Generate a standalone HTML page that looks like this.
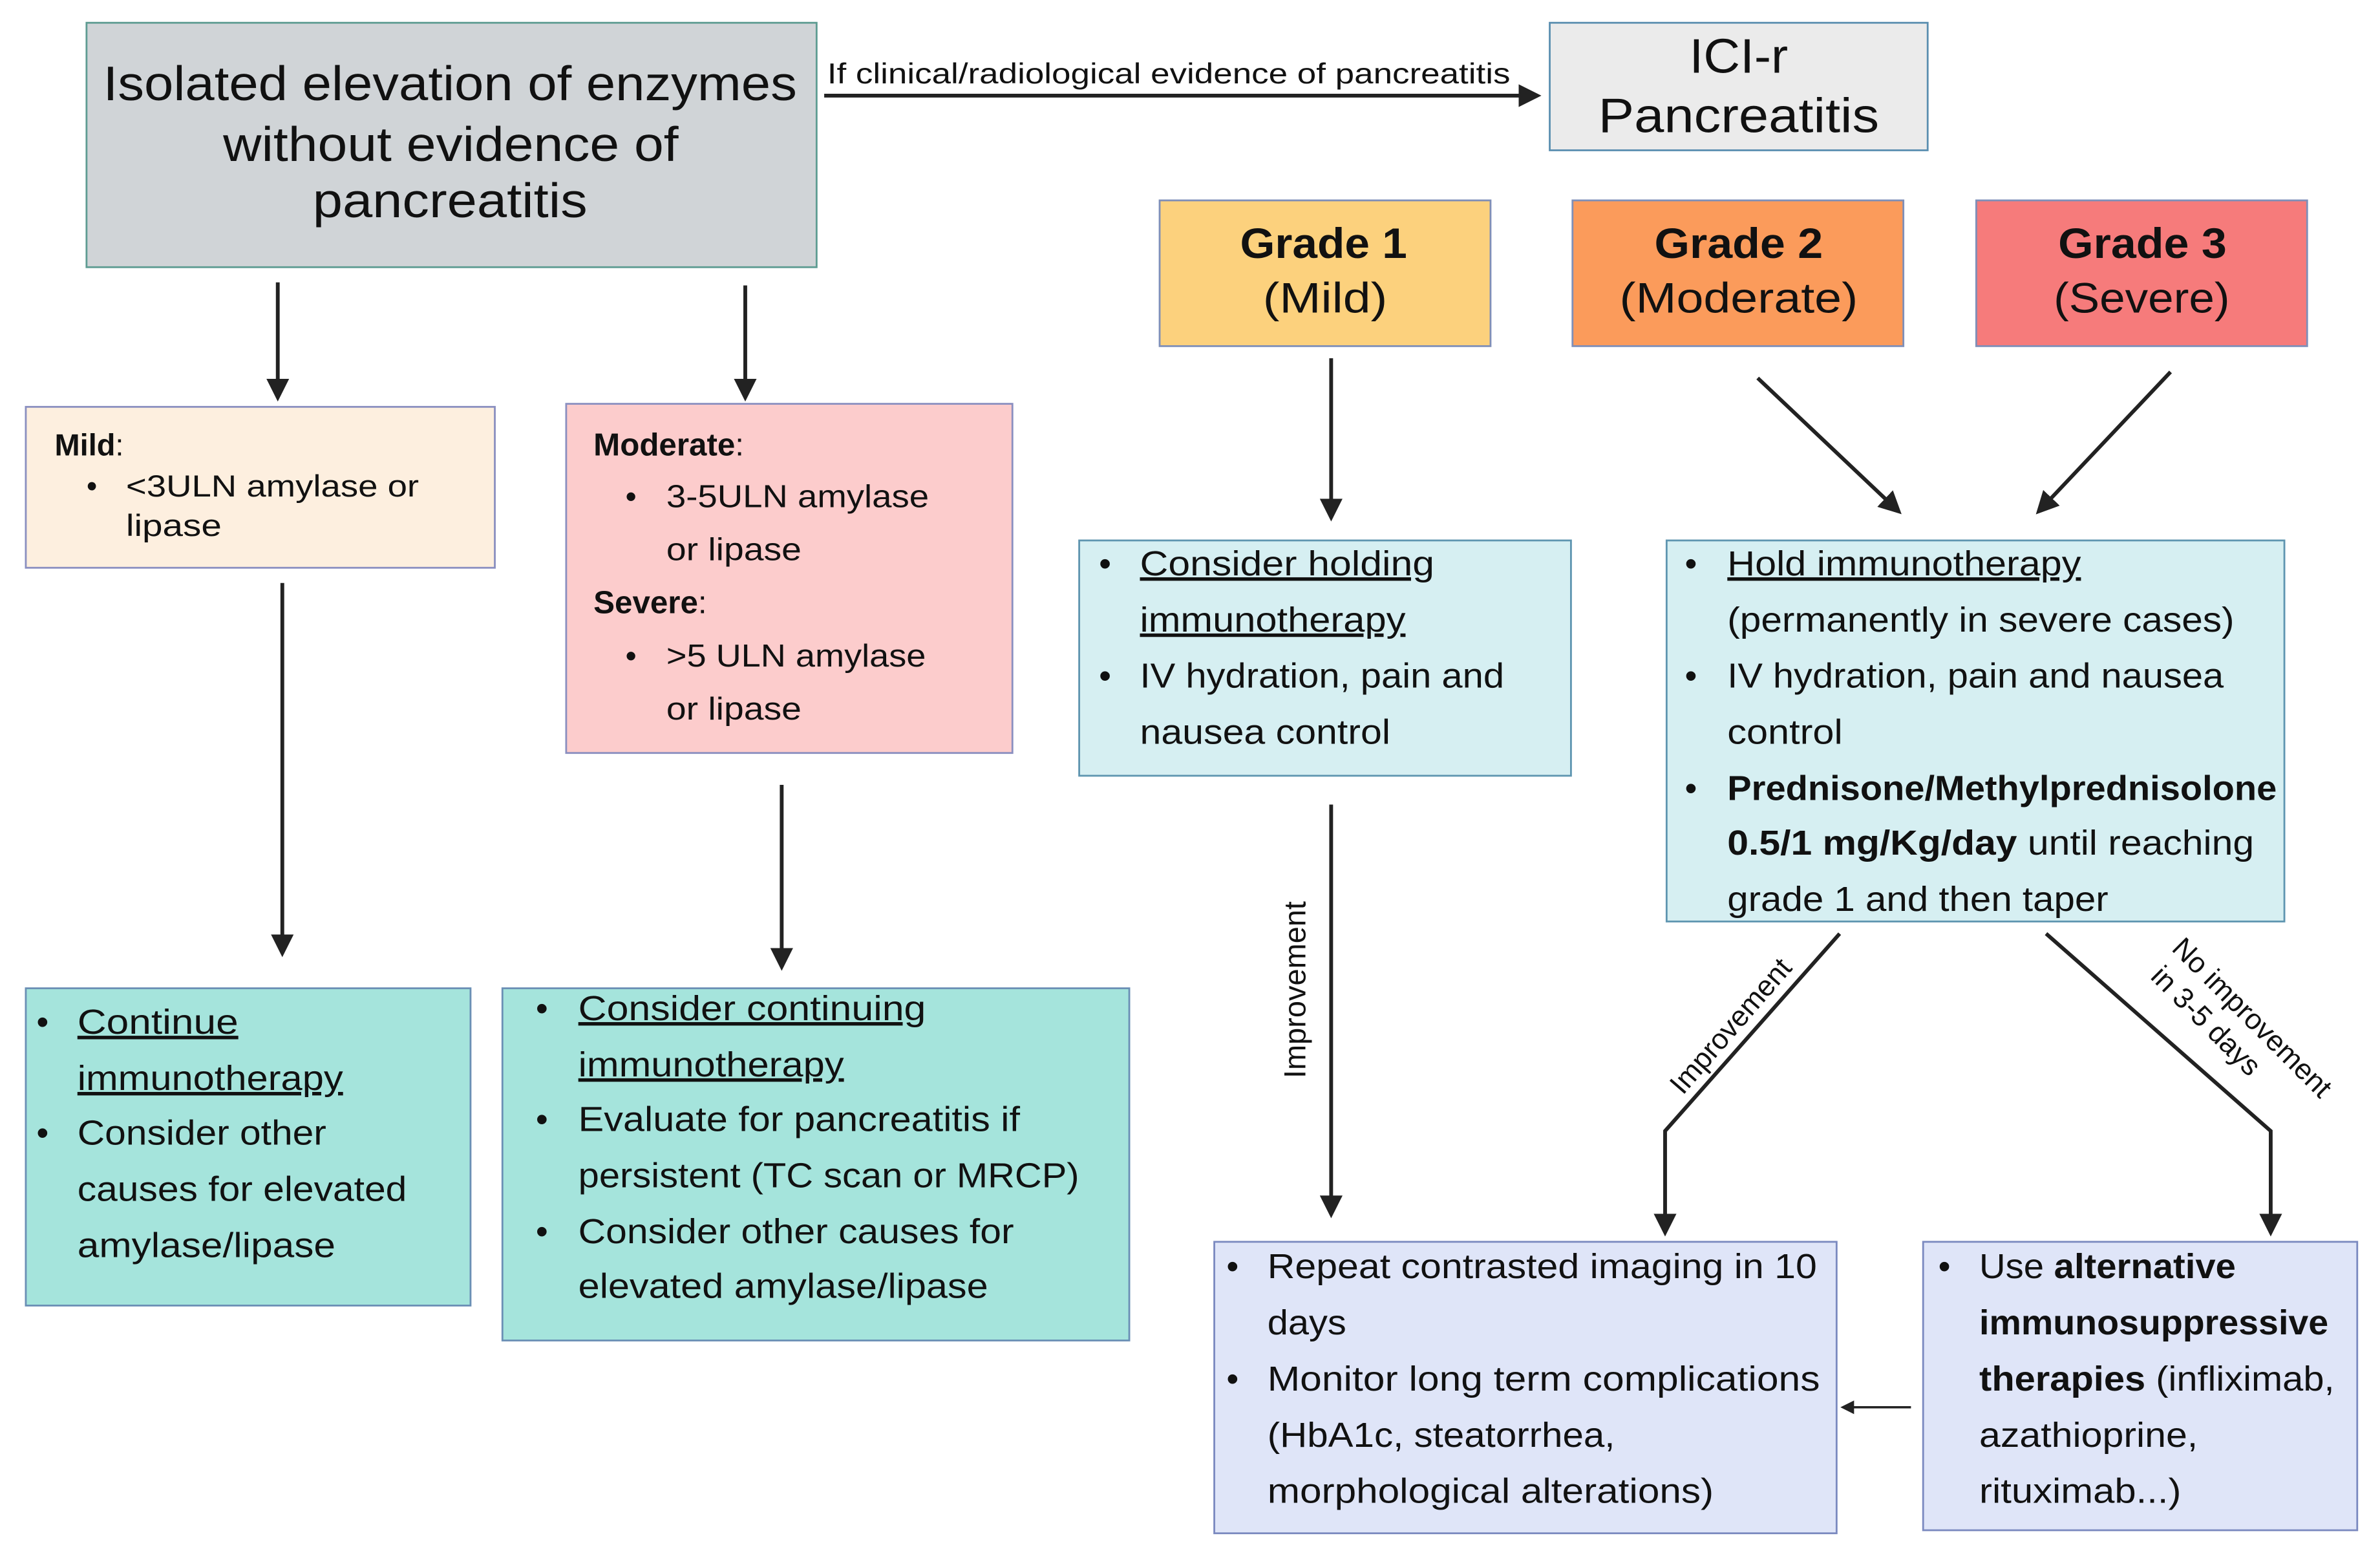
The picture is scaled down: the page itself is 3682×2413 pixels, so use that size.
<!DOCTYPE html>
<html><head><meta charset="utf-8"><style>
html,body{margin:0;padding:0;background:#fff;}
svg{display:block;}
text{font-family:"Liberation Sans",sans-serif;fill:#111;}
.u{text-decoration:underline;}
</style></head><body>
<svg width="3682" height="2413" viewBox="0 0 1568 1027.6" preserveAspectRatio="none" xmlns="http://www.w3.org/2000/svg">
<defs>
<marker id="a" markerWidth="6" markerHeight="6" refX="5" refY="3" orient="auto" markerUnits="strokeWidth"><path d="M0,0 L6,3 L0,6 z" fill="#222"/></marker>
</defs>
<rect width="1568" height="1028" fill="#fff"/>
<!-- top box -->
<rect x="57" y="15" width="481" height="161" fill="#d0d4d7" stroke="#5e9c92" stroke-width="1.2"/>
<g font-size="32" text-anchor="start">
<text x="68" y="66" textLength="457" lengthAdjust="spacingAndGlyphs">Isolated elevation of enzymes</text>
<text x="147" y="106" textLength="300" lengthAdjust="spacingAndGlyphs">without evidence of</text>
<text x="206" y="143" textLength="181" lengthAdjust="spacingAndGlyphs">pancreatitis</text>
</g>
<line x1="543" y1="63" x2="1013" y2="63" stroke="#222" stroke-width="2.5" marker-end="url(#a)"/>
<text x="545" y="55" font-size="19" textLength="450" lengthAdjust="spacingAndGlyphs">If clinical/radiological evidence of pancreatitis</text>
<rect x="1021" y="15" width="249" height="84" fill="#ebebeb" stroke="#5b8fb0" stroke-width="1.2"/>
<text x="1113" y="48" font-size="32" textLength="65" lengthAdjust="spacingAndGlyphs">ICI-r</text>
<text x="1053" y="87" font-size="32" textLength="185" lengthAdjust="spacingAndGlyphs">Pancreatitis</text>
<!-- grades -->
<rect x="764" y="132" width="218" height="96" fill="#fcd17d" stroke="#7f8fb8" stroke-width="1.2"/>
<rect x="1036" y="132" width="218" height="96" fill="#fb9b5b" stroke="#7f8fb8" stroke-width="1.2"/>
<rect x="1302" y="132" width="218" height="96" fill="#f67b7b" stroke="#7f8fb8" stroke-width="1.2"/>
<g font-size="28">
<text x="817" y="170" font-weight="bold" textLength="110" lengthAdjust="spacingAndGlyphs">Grade 1</text>
<text x="832" y="206" textLength="82" lengthAdjust="spacingAndGlyphs">(Mild)</text>
<text x="1090" y="170" font-weight="bold" textLength="111" lengthAdjust="spacingAndGlyphs">Grade 2</text>
<text x="1067" y="206" textLength="157" lengthAdjust="spacingAndGlyphs">(Moderate)</text>
<text x="1356" y="170" font-weight="bold" textLength="111" lengthAdjust="spacingAndGlyphs">Grade 3</text>
<text x="1353" y="206" textLength="116" lengthAdjust="spacingAndGlyphs">(Severe)</text>
</g>
<!-- arrows -->
<g stroke="#222" stroke-width="2.5" fill="none" marker-end="url(#a)">
<line x1="183" y1="186" x2="183" y2="262"/>
<line x1="491" y1="188" x2="491" y2="262"/>
<line x1="186" y1="384" x2="186" y2="628"/>
<line x1="515" y1="517" x2="515" y2="637"/>
<line x1="877" y1="236" x2="877" y2="341"/>
<line x1="1158" y1="249" x2="1251" y2="337"/>
<line x1="1430" y1="245" x2="1343" y2="337"/>
<line x1="877" y1="530" x2="877" y2="800"/>
<polyline points="1212,615 1097,745 1097,812"/>
<polyline points="1348,615 1496,745 1496,812"/>
</g>
<line x1="1259" y1="927" x2="1214" y2="927" stroke="#222" stroke-width="1.5" marker-end="url(#a)"/>
<!-- Mild -->
<rect x="17" y="268" width="309" height="106" fill="#fdefdf" stroke="#8a8fc0" stroke-width="1.2"/>
<g font-size="20">
<text x="36" y="300"><tspan font-weight="bold">Mild</tspan>:</text>
<text x="57" y="327">•</text>
<text x="83" y="327" textLength="193" lengthAdjust="spacingAndGlyphs">&lt;3ULN amylase or</text>
<text x="83" y="353" textLength="63" lengthAdjust="spacingAndGlyphs">lipase</text>
</g>
<!-- Moderate -->
<rect x="373" y="266" width="294" height="230" fill="#fccccc" stroke="#8a8fc0" stroke-width="1.2"/>
<g font-size="21">
<text x="391" y="300"><tspan font-weight="bold">Moderate</tspan>:</text>
<text x="412" y="334">•</text>
<text x="439" y="334" textLength="173" lengthAdjust="spacingAndGlyphs">3-5ULN amylase</text>
<text x="439" y="369" textLength="89" lengthAdjust="spacingAndGlyphs">or lipase</text>
<text x="391" y="404"><tspan font-weight="bold">Severe</tspan>:</text>
<text x="412" y="439">•</text>
<text x="439" y="439" textLength="171" lengthAdjust="spacingAndGlyphs">&gt;5 ULN amylase</text>
<text x="439" y="474" textLength="89" lengthAdjust="spacingAndGlyphs">or lipase</text>
</g>
<!-- Continue -->
<rect x="17" y="651" width="293" height="209" fill="#a5e4dc" stroke="#6a8fb5" stroke-width="1.2"/>
<g font-size="23">
<text x="24" y="681">•</text>
<text x="51" y="681" class="u" textLength="106" lengthAdjust="spacingAndGlyphs">Continue </text>
<text x="51" y="718" class="u" textLength="175" lengthAdjust="spacingAndGlyphs">immunotherapy</text>
<text x="24" y="754">•</text>
<text x="51" y="754" textLength="164" lengthAdjust="spacingAndGlyphs">Consider other</text>
<text x="51" y="791" textLength="217" lengthAdjust="spacingAndGlyphs">causes for elevated</text>
<text x="51" y="828" textLength="170" lengthAdjust="spacingAndGlyphs">amylase/lipase</text>
</g>
<!-- Consider continuing -->
<rect x="331" y="651" width="413" height="232" fill="#a5e4dc" stroke="#6a8fb5" stroke-width="1.2"/>
<g font-size="23">
<text x="353" y="672">•</text>
<text x="381" y="672" class="u" textLength="229" lengthAdjust="spacingAndGlyphs">Consider continuing </text>
<text x="381" y="709" class="u" textLength="175" lengthAdjust="spacingAndGlyphs">immunotherapy</text>
<text x="353" y="745">•</text>
<text x="381" y="745" textLength="291" lengthAdjust="spacingAndGlyphs">Evaluate for pancreatitis if</text>
<text x="381" y="782" textLength="330" lengthAdjust="spacingAndGlyphs">persistent (TC scan or MRCP)</text>
<text x="353" y="819">•</text>
<text x="381" y="819" textLength="287" lengthAdjust="spacingAndGlyphs">Consider other causes for</text>
<text x="381" y="855" textLength="270" lengthAdjust="spacingAndGlyphs">elevated amylase/lipase</text>
</g>
<!-- holding -->
<rect x="711" y="356" width="324" height="155" fill="#d6eff2" stroke="#5e95b0" stroke-width="1.2"/>
<g font-size="23">
<text x="724" y="379">•</text>
<text x="751" y="379" class="u" textLength="194" lengthAdjust="spacingAndGlyphs">Consider holding </text>
<text x="751" y="416" class="u" textLength="175" lengthAdjust="spacingAndGlyphs">immunotherapy</text>
<text x="724" y="453">•</text>
<text x="751" y="453" textLength="240" lengthAdjust="spacingAndGlyphs">IV hydration, pain and</text>
<text x="751" y="490" textLength="165" lengthAdjust="spacingAndGlyphs">nausea control</text>
</g>
<!-- hold -->
<rect x="1098" y="356" width="407" height="251" fill="#d6eff2" stroke="#5e95b0" stroke-width="1.2"/>
<g font-size="23">
<text x="1110" y="379">•</text>
<text x="1138" y="379" class="u" textLength="233" lengthAdjust="spacingAndGlyphs">Hold immunotherapy</text>
<text x="1138" y="416" textLength="334" lengthAdjust="spacingAndGlyphs">(permanently in severe cases)</text>
<text x="1110" y="453">•</text>
<text x="1138" y="453" textLength="327" lengthAdjust="spacingAndGlyphs">IV hydration, pain and nausea</text>
<text x="1138" y="490" textLength="76" lengthAdjust="spacingAndGlyphs">control</text>
<text x="1110" y="527">•</text>
<text x="1138" y="527" font-weight="bold" textLength="362" lengthAdjust="spacingAndGlyphs">Prednisone/Methylprednisolone</text>
<text x="1138" y="563" textLength="347" lengthAdjust="spacingAndGlyphs"><tspan font-weight="bold">0.5/1 mg/Kg/day</tspan> until reaching</text>
<text x="1138" y="600" textLength="251" lengthAdjust="spacingAndGlyphs">grade 1 and then taper</text>
</g>
<!-- labels on arrows -->
<text x="0" y="0" font-size="20" text-anchor="middle" transform="translate(860,652) rotate(-90)">Improvement</text>
<text x="0" y="0" font-size="19" text-anchor="middle" transform="translate(1145,680) rotate(-49)">Improvement</text>
<g transform="translate(1468,672) rotate(45)" font-size="19" text-anchor="middle">
<text x="10" y="-6">No improvement</text>
<text x="-10" y="17">in 3-5 days</text>
</g>
<!-- repeat -->
<rect x="800" y="818" width="410" height="192" fill="#dfe5f8" stroke="#7b8ac0" stroke-width="1.2"/>
<g font-size="23">
<text x="808" y="842">•</text>
<text x="835" y="842" textLength="362" lengthAdjust="spacingAndGlyphs">Repeat contrasted imaging in 10</text>
<text x="835" y="879" textLength="52" lengthAdjust="spacingAndGlyphs">days</text>
<text x="808" y="916">•</text>
<text x="835" y="916" textLength="364" lengthAdjust="spacingAndGlyphs">Monitor long term complications</text>
<text x="835" y="953" textLength="229" lengthAdjust="spacingAndGlyphs">(HbA1c, steatorrhea,</text>
<text x="835" y="990" textLength="294" lengthAdjust="spacingAndGlyphs">morphological alterations)</text>
</g>
<!-- alt -->
<rect x="1267" y="818" width="286" height="190" fill="#dfe5f8" stroke="#7b8ac0" stroke-width="1.2"/>
<g font-size="23">
<text x="1277" y="842">•</text>
<text x="1304" y="842" textLength="169" lengthAdjust="spacingAndGlyphs">Use <tspan font-weight="bold">alternative</tspan></text>
<text x="1304" y="879" font-weight="bold" textLength="230" lengthAdjust="spacingAndGlyphs">immunosuppressive</text>
<text x="1304" y="916" textLength="234" lengthAdjust="spacingAndGlyphs"><tspan font-weight="bold">therapies</tspan> (infliximab,</text>
<text x="1304" y="953" textLength="144" lengthAdjust="spacingAndGlyphs">azathioprine,</text>
<text x="1304" y="990" textLength="133" lengthAdjust="spacingAndGlyphs">rituximab...)</text>
</g>
</svg>
</body></html>
